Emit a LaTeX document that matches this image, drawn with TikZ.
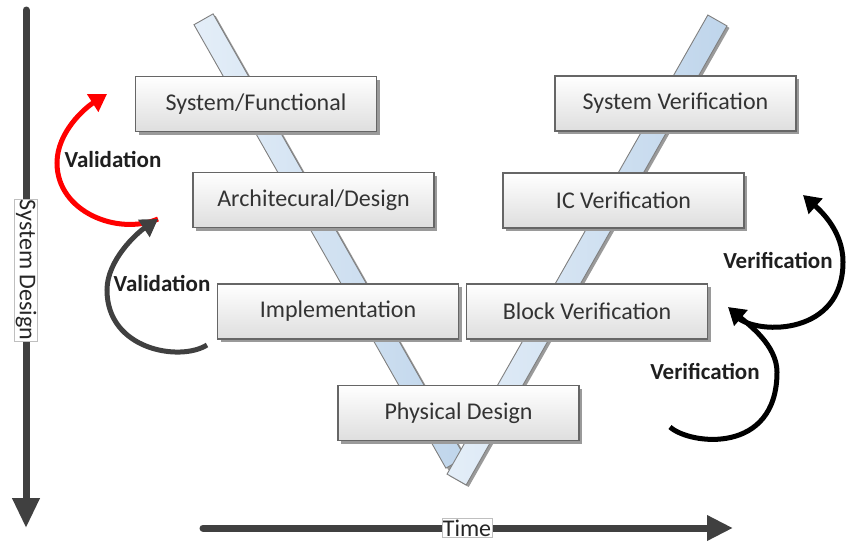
\documentclass[tikz,border=0pt]{standalone}
\usepackage{fontspec}
\setmainfont{Carlito}
\usetikzlibrary{arrows.meta,shadows,calc}
\definecolor{boxline}{HTML}{666666}
\definecolor{boxbot}{HTML}{DEDEDE}
\definecolor{boxtext}{HTML}{333333}
\definecolor{shadowc}{HTML}{9A9A9A}
\definecolor{bandl}{HTML}{E4EEF8}
\definecolor{bandr}{HTML}{BFD5EB}
\definecolor{bandline}{HTML}{7F7F7F}
\definecolor{axisc}{HTML}{404040}
\definecolor{valred}{HTML}{FF0000}
\definecolor{valgray}{HTML}{404040}
\begin{document}
\begin{tikzpicture}[x=1pt,y=-1pt,
  box/.style={draw=boxline, line width=1.2pt, top color=white, bottom color=boxbot,
    minimum width=241pt, minimum height=55pt, inner sep=0pt,
    font=\fontsize{24}{28}\selectfont, text=boxtext,
    drop shadow={shadow xshift=3pt, shadow yshift=-3pt, fill=shadowc, opacity=1}},
  band/.style={draw=bandline, line width=0.9pt, left color=bandl, right color=bandr,
    minimum width=22pt, inner sep=0pt,
    drop shadow={shadow xshift=2.5pt, shadow yshift=-2pt, fill=shadowc, opacity=1}},
  axisarrow/.style={draw=axisc, line width=7pt, line cap=round,
    -{Triangle[length=30pt,width=26pt]}},
  axislabel/.style={draw=black!25, line width=0.5pt, fill=white, inner sep=1pt,
    font=\fontsize{24}{28}\selectfont, text=black!85},
  loop/.style={line width=5pt, -{Triangle[length=17pt,width=20pt]}},
  looplabel/.style={font=\fontsize{23}{27}\selectfont\bfseries, text=black!88, inner sep=0pt}
]
\useasboundingbox (0,0) rectangle (846,544);

% V bands
\node[band, minimum height=510pt, rotate=29.6] (lband) at (329.5,241) {};
\node[band, minimum height=528pt, rotate=-29.6] (rband) at (587,250) {};

% boxes
\node[box] (sf)   at (256,104)   {System/Functional};
\node[box] (ad)   at (313.5,200) {Architecural/Design};
\node[box] (impl) at (338,311.5) {Implementation};
\node[box] (pd)   at (458.5,413) {Physical Design};
\node[box] (bv)   at (587,311.5) {Block Verification};
\node[box] (icv)  at (623.5,200.5) {IC Verification};
\node[box] (sv)   at (675.5,103.5) {System Verification};

% axes
\coordinate (vtop) at (26,10);
\coordinate (vbot) at (26,528);
\draw[axisarrow] (vtop) -- (vbot);
\node[axislabel, rotate=-90] (sdlab) at (26,270) {System Design};

\coordinate (hstart) at (203,528);
\coordinate (hend) at (733,528);
\draw[axisarrow, -{Triangle[length=26pt,width=24pt]}] (hstart) -- (hend);
\node[axislabel] (timelab) at (467,528) {Time};

% validation loops
\coordinate (r0) at (158,219);
\coordinate (r1) at (57,163);
\coordinate (r2) at (107,94);
\draw[loop, valred] (r0) .. controls (118,236) and (57,212) .. (r1)
   .. controls (57,132) and (85,108) .. (r2);
\node[looplabel] (val1) at (113,159) {Validation};

\coordinate (g0) at (207,345);
\coordinate (g1) at (107,290);
\draw[loop, valgray] (g0) .. controls (180,362) and (107,350) .. (g1)
   .. controls (107,260) and (137,233) .. (r0);
\node[looplabel] (val2) at (162,283) {Validation};

% verification loops
\coordinate (b0) at (670,427);
\coordinate (b1) at (777,372);
\coordinate (b2) at (728,307);
\draw[loop, black] (b0) .. controls (690,445) and (777,455) .. (b1)
   .. controls (777,345) and (748,324) .. (b2);
\node[looplabel] (ver1) at (705,371) {Verification};

\coordinate (u0) at (738,318);
\coordinate (u1) at (843,262);
\coordinate (u2) at (803,195);
\draw[loop, black] (u0) .. controls (760,335) and (843,335) .. (u1)
   .. controls (843,232) and (822,212) .. (u2);
\node[looplabel] (ver2) at (778,260) {Verification};
\end{tikzpicture}
\end{document}
